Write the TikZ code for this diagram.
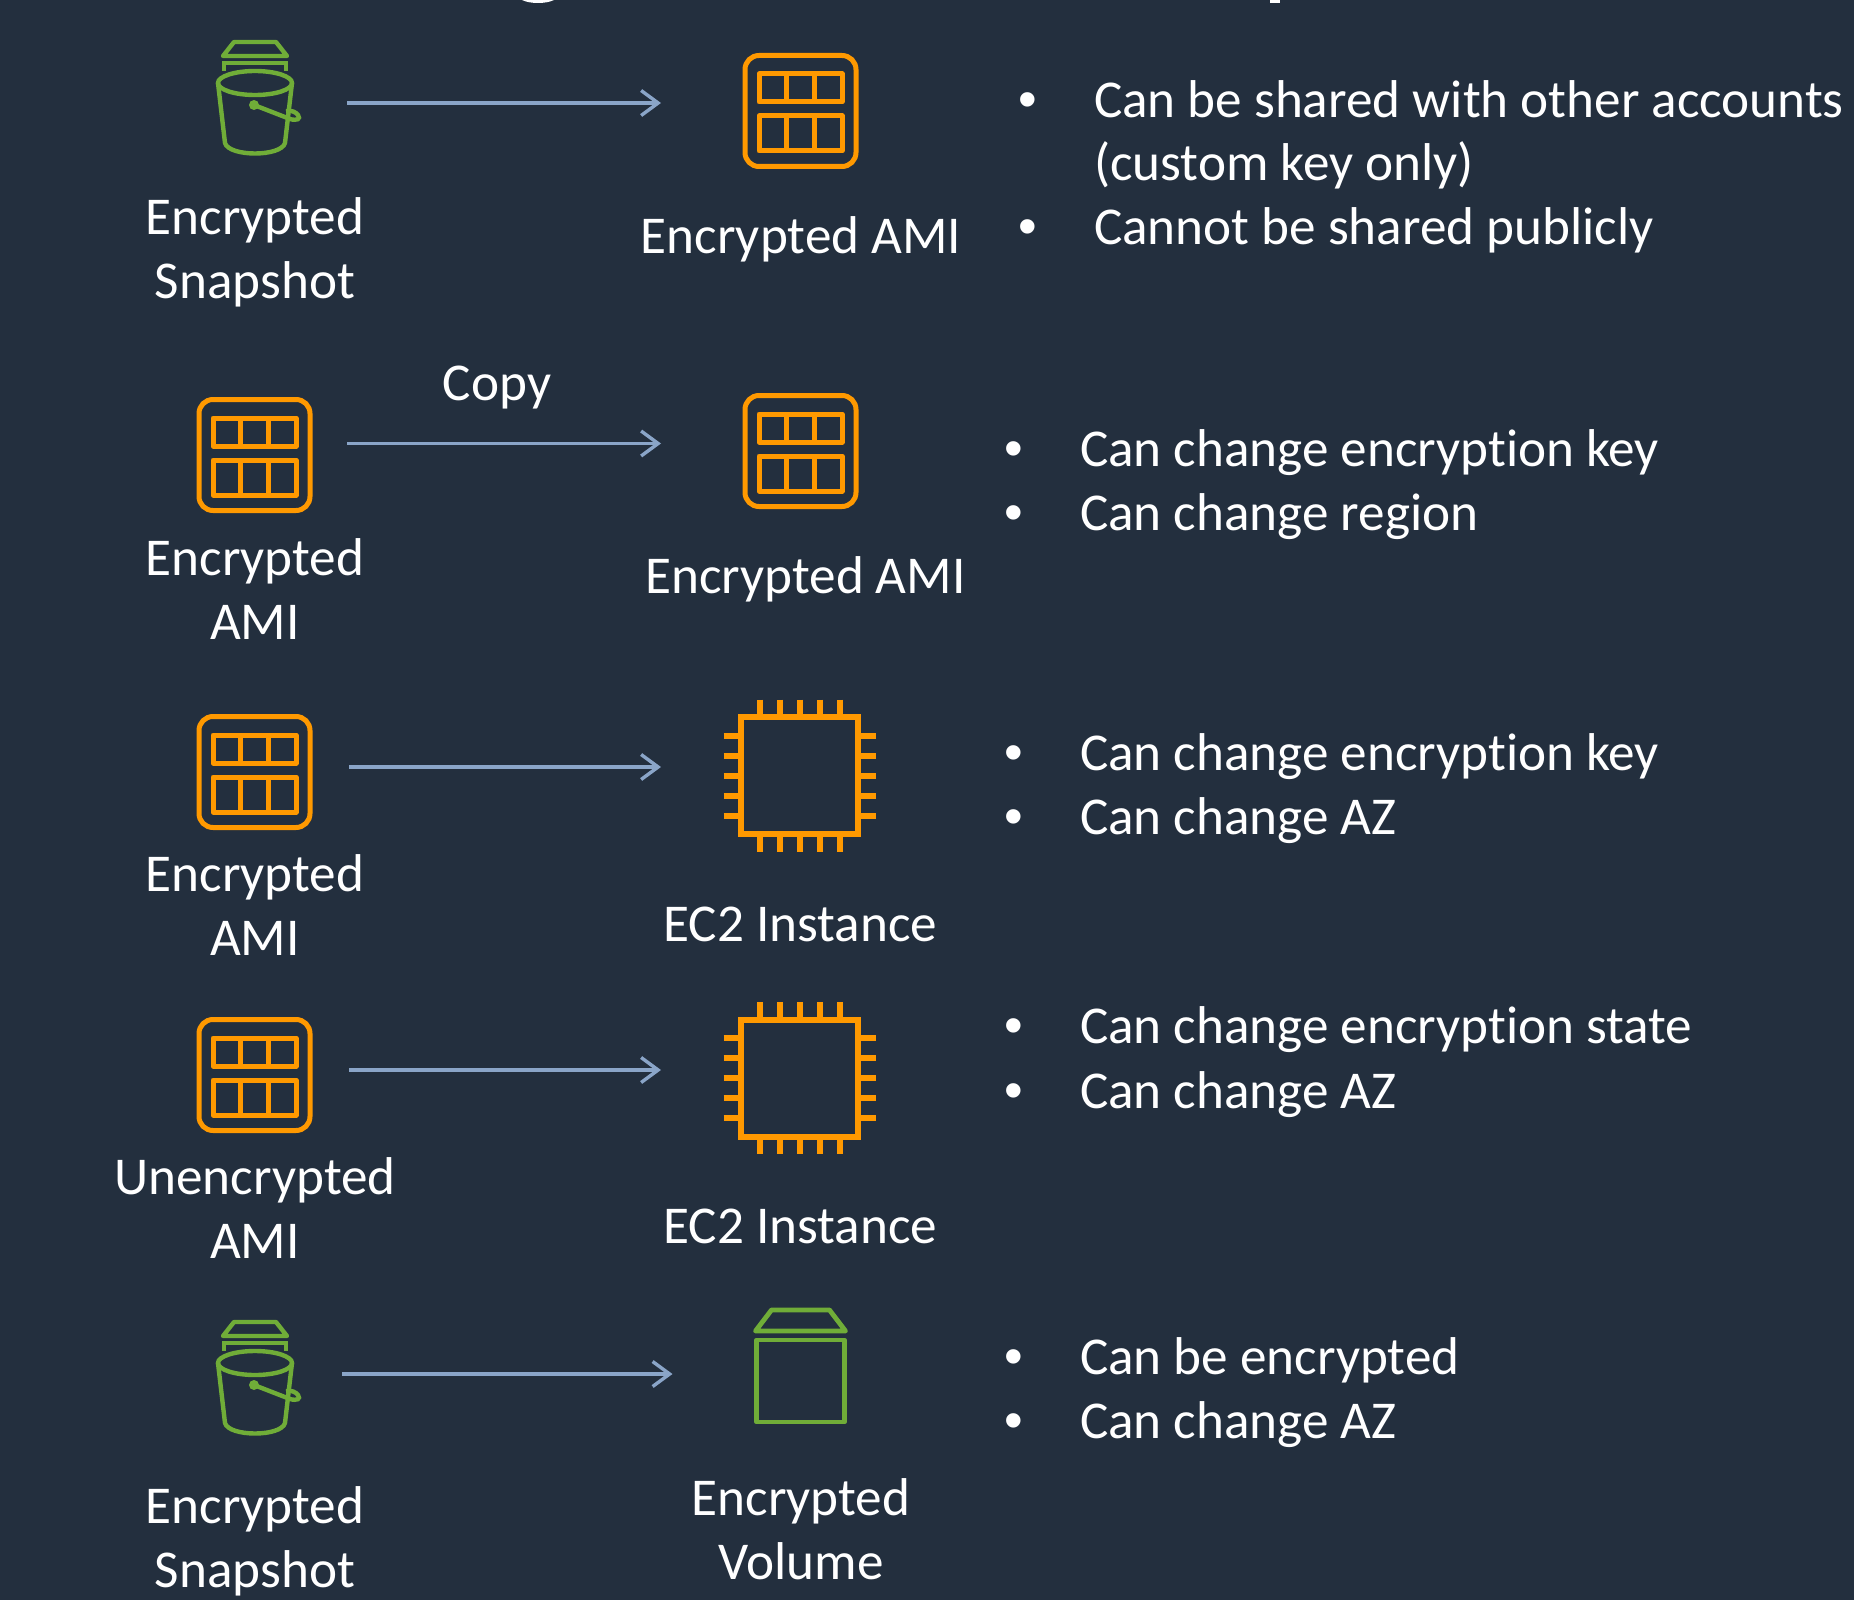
\documentclass[tikz,border=0pt]{standalone}
\usepackage{fontspec}
\setmainfont{Carlito}[Ligatures=CommonOff]
\newfontfamily\bulletfont{Liberation Sans}
\usetikzlibrary{arrows.meta}

\definecolor{slide}{RGB}{35,47,62}
\definecolor{awsorange}{RGB}{255,153,0}
\definecolor{awsgreen}{RGB}{112,173,56}
\definecolor{flowblue}{RGB}{138,165,200}

\tikzset{
    flow/.style={draw=flowblue, line width=1.7pt, -{Straight Barb[length=8.5pt,width=12.5pt,line width=1.7pt]}},
    lbl/.style={text=white, font=\fontsize{26.6}{32}\selectfont, inner sep=0pt, outer sep=0pt, anchor=base, align=center},
    item/.style={lbl, anchor=base west, align=left},
    dot/.style={lbl, font=\bulletfont\fontsize{26.6}{32}\selectfont},
    amiicon/.pic={
        \draw[awsorange, line width=2.5pt, rounded corners=7pt] (-55.5,-55.5) rectangle (55.5,55.5);
        \draw[awsorange, line width=2.5pt, line join=round] (-41.5,-37) rectangle (41.5,-9) (-41.5,5) rectangle (41.5,40);
        \foreach \xx in {-14,14} \draw[awsorange, line width=2.5pt] (\xx,-37) -- (\xx,-9) (\xx,5) -- (\xx,40);
    },
    chipicon/.pic={
        \draw[awsorange, line width=3pt] (-58.5,-58.5) rectangle (58.5,58.5);
        \foreach \pp in {-40,-20,0,20,40} {
            \draw[awsorange, line width=3pt] (\pp,-76) -- (\pp,-58.5) (\pp,58.5) -- (\pp,76);
            \draw[awsorange, line width=3pt] (-76,\pp) -- (-58.5,\pp) (58.5,\pp) -- (76,\pp);
        }
    },
    bucketicon/.pic={
        \draw[awsgreen, line width=2.2pt, line join=round] (-21,-41) -- (21,-41) -- (32,-27) -- (-32,-27) -- cycle;
        \draw[awsgreen, line width=2.2pt] (-31,-12) -- (-31,-20) -- (31,-20) -- (31,-12);
        \draw[awsgreen, line width=2.2pt] (0,0) ellipse [x radius=37, y radius=12];
        \draw[awsgreen, line width=2.2pt] (-37,0) -- (-30,60) .. controls (-26,74) and (26,74) .. (30,60) -- (37,0);
        \fill[awsgreen] (-1,22) circle [radius=5];
        \draw[awsgreen, line width=2.2pt] (-1,22) -- (35,36) .. controls (42,38) and (46,36) .. (43,32) .. controls (41,29) and (36,27) .. (31,28);
    },
    volumeicon/.pic={
        \draw[awsgreen, line width=2.4pt, line join=round] (-29,-56) -- (29,-56) -- (45,-35) -- (-45,-35) -- cycle;
        \draw[awsgreen, line width=2.4pt, line join=round] (-44,-26) rectangle (44,56);
    },
}

\begin{document}
\begin{tikzpicture}[x=0.5pt, y=-0.5pt]
    % Slide
    \fill[slide] (0,0) rectangle (1854,1600);
    \useasboundingbox (0,0) rectangle (1854,1600);

    % Clipped title
    \fill[white] (522,0) .. controls (530,4) and (546,4) .. (554,0) -- cycle;
    \fill[white] (1270,0) rectangle (1280,3);

    % Icons
    \pic at (255,83) {bucketicon};
    \pic at (800.5,111) {amiicon};
    \pic at (254.5,455) {amiicon};
    \pic at (800.5,451) {amiicon};
    \pic at (254.5,772) {amiicon};
    \pic at (799.5,775.5) {chipicon};
    \pic at (254.5,1075) {amiicon};
    \pic at (799.5,1078) {chipicon};
    \pic at (255,1363) {bucketicon};
    \pic at (800.5,1366) {volumeicon};

    % Arrow ends
    \coordinate (rowa) at (347,103);
    \coordinate (rowaend) at (661,103);
    \coordinate (rowb) at (347,443.5);
    \coordinate (rowbend) at (661,443.5);
    \coordinate (rowc) at (349,767);
    \coordinate (rowcend) at (661,767);
    \coordinate (rowd) at (349,1070);
    \coordinate (rowdend) at (661,1070);
    \coordinate (rowe) at (342,1374);
    \coordinate (roweend) at (672.5,1374);

    \draw[flow] (rowa) -- (rowaend);
    \draw[flow] (rowb) -- (rowbend);
    \draw[flow] (rowc) -- (rowcend);
    \draw[flow] (rowd) -- (rowdend);
    \draw[flow] (rowe) -- (roweend);

    % Labels
    \node[lbl] (snapa) at (255,298) {Encrypted\\Snapshot};
    \node[lbl] (amia) at (801,253) {Encrypted AMI};
    \node[lbl] (copyb) at (497,400) {Copy};
    \node[lbl] (amib) at (255,639) {Encrypted\\AMI};
    \node[lbl] (amibb) at (805.5,593) {Encrypted AMI};
    \node[lbl] (amic) at (255,955.5) {Encrypted\\AMI};
    \node[lbl] (ecc) at (800.5,941) {EC2 Instance};
    \node[lbl] (amid) at (255,1258) {Unencrypted\\AMI};
    \node[lbl] (ecd) at (800.5,1243) {EC2 Instance};
    \node[lbl] (snape) at (255,1587) {Encrypted\\Snapshot};
    \node[lbl] (vole) at (801,1579) {Encrypted\\Volume};

    % Notes
    \node[dot] (da) at (1027.5,117.5) {\textbullet};
    \node[item] (ta) at (1094,181) {Can be shared with other accounts\\(custom key only)};
    \node[dot] (db) at (1027.5,244) {\textbullet};
    \node[item] (tb) at (1094,244.5) {Cannot be shared publicly};

    \node[dot] (dc) at (1014,466) {\textbullet};
    \node[item] (tc) at (1080,466) {Can change encryption key};
    \node[dot] (dd) at (1014,530) {\textbullet};
    \node[item] (td) at (1080,530.5) {Can change region};

    \node[dot] (de) at (1014,770) {\textbullet};
    \node[item] (te) at (1080,770) {Can change encryption key};
    \node[dot] (df) at (1014,834) {\textbullet};
    \node[item] (tf) at (1080,834) {Can change AZ};

    \node[dot] (dg) at (1014,1043) {\textbullet};
    \node[item] (tg) at (1080,1043.5) {Can change encryption state};
    \node[dot] (dh) at (1014,1108) {\textbullet};
    \node[item] (th) at (1080,1108) {Can change AZ};

    \node[dot] (di) at (1014,1374) {\textbullet};
    \node[item] (ti) at (1080,1374.5) {Can be encrypted};
    \node[dot] (dj) at (1014,1438) {\textbullet};
    \node[item] (tj) at (1080,1438) {Can change AZ};
\end{tikzpicture}
\end{document}
